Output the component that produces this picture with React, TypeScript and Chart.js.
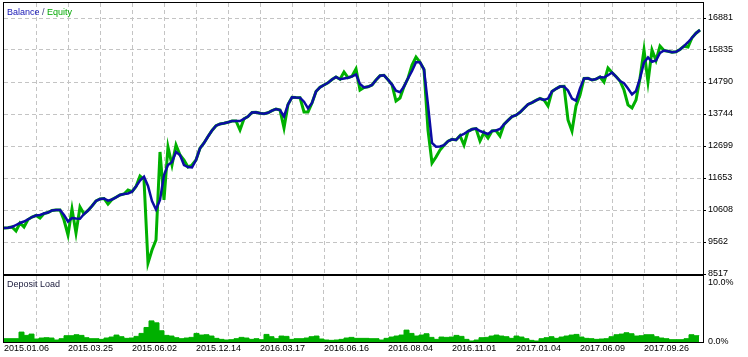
import React, { useEffect, useRef } from "react";
import { Chart, registerables } from "chart.js";

Chart.register(...registerables);

// ---- data ----
const dateLabels = [
  "2015.01.06", "2015.03.25", "2015.06.02", "2015.12.14", "2016.03.17", "2016.06.16",
  "2016.08.04", "2016.11.01", "2017.01.04", "2017.06.09", "2017.09.26",
];

const balanceTickLabels = ["8517", "9562", "10608", "11653", "12699", "13744", "14790", "15835", "16881"];
const depositTickLabels = ["0.0%", "10.0%"];

const balance = [
  10020, 10026, 10053, 10118, 10183, 10232, 10298, 10379, 10428, 10445,
  10494, 10526, 10592, 10608, 10608, 10445, 10232, 10347, 10330, 10324,
  10477, 10592, 10739, 10902, 10967, 10984, 10912, 10951, 11023, 11098,
  11131, 11147, 11206, 11376, 11572, 11696, 11392, 10902, 10624, 10935,
  11752, 12078, 12176, 12503, 12405, 12078, 12013, 11997, 12242, 12624,
  12797, 13009, 13205, 13362, 13418, 13441, 13473, 13516, 13516, 13516,
  13588, 13663, 13794, 13800, 13767, 13751, 13784, 13852, 13908, 13875,
  13663, 14055, 14290, 14280, 14277, 14146, 13931, 14104, 14480, 14617,
  14692, 14764, 14872, 14953, 14878, 14904, 14931, 14976, 15035, 14725,
  14610, 14633, 14692, 14855, 14993, 15009, 14865, 14705, 14503, 14457,
  14643, 14911, 15149, 15434, 15434, 15198, 14039, 12797, 12676, 12683,
  12725, 12856, 12918, 12895, 13036, 13098, 13179, 13245, 13268, 13189,
  13140, 13091, 13189, 13205, 13254, 13405, 13535, 13660, 13705, 13800,
  13931, 14058, 14117, 14189, 14251, 14202, 14248, 14483, 14568, 14640,
  14646, 14509, 14251, 14179, 14584, 14908, 14911, 14855, 14885, 14953,
  14937, 15012, 15100, 14970, 14823, 14751, 14578, 14382, 14496, 14911,
  15427, 15591, 15453, 15493, 15738, 15819, 15793, 15760, 15777, 15852,
  15960, 16090, 16237, 16384, 16489,
];

const equity = [
  10020, 10026, 10053, 9922, 10183, 10053, 10298, 10379, 10428, 10347,
  10494, 10526, 10592, 10608, 10608, 10281, 9791, 10641, 9857, 10706,
  10477, 10592, 10739, 10902, 10967, 10984, 10804, 10951, 11023, 11098,
  11131, 11261, 11206, 11376, 11719, 11600, 8876, 9301, 9628, 12503,
  10935, 12666, 12078, 12732, 12405, 12242, 12013, 12078, 12242, 12624,
  12797, 13009, 13205, 13362, 13418, 13441, 13473, 13516, 13516, 13222,
  13588, 13663, 13794, 13800, 13767, 13751, 13784, 13852, 13908, 13875,
  13287, 14055, 14290, 14280, 14277, 13810, 13810, 14104, 14480, 14617,
  14692, 14764, 14872, 14953, 14878, 15117, 14931, 14976, 15215, 14529,
  14610, 14633, 14692, 14855, 14993, 15009, 14865, 14705, 14169, 14267,
  14643, 14911, 15345, 15607, 15434, 15198, 13222, 12144, 12340, 12568,
  12725, 12856, 12918, 12895, 13036, 12732, 13179, 13245, 13268, 12862,
  13140, 12960, 13189, 13205, 13026, 13405, 13535, 13660, 13705, 13800,
  13931, 14058, 14117, 14189, 14251, 14202, 14006, 14483, 14568, 14640,
  14646, 13548, 13189, 14006, 14365, 14908, 14911, 14855, 14885, 14953,
  14790, 15247, 15100, 14970, 14823, 14529, 14039, 13941, 14202, 14911,
  15836, 14790, 15836, 15493, 15966, 15819, 15793, 15760, 15777, 15852,
  15960, 15934, 16237, 16384, 16489,
];

const depositLoad = [
  0.5, 0.5, 0.5, 1.5, 1.0, 1.2, 0.45, 0.6, 0.65, 0.6,
  0.3, 0.5, 0.95, 0.95, 1.1, 1.0, 0.65, 0.5, 0.5, 0.4,
  0.6, 0.75, 1.05, 0.8, 0.55, 0.6, 0.85, 1.3, 2.2, 3.2,
  2.9, 1.7, 1.0, 0.9, 0.65, 0.5, 0.6, 0.7, 1.3, 1.05,
  1.1, 0.9, 0.55, 0.4, 0.3, 0.35, 0.5, 0.7, 0.6, 0.4,
  0.5, 0.35, 1.15, 0.8, 0.5, 0.9, 0.85, 0.4, 0.5, 0.5,
  0.6, 0.8, 0.9, 0.45, 0.3, 0.25, 0.3, 0.4, 0.6, 0.7,
  0.55, 0.55, 0.55, 0.5, 0.5, 0.3, 0.55, 0.75, 0.9, 1.05,
  1.8, 1.3, 0.9, 1.05, 1.25, 0.7, 0.4, 0.75, 0.7, 0.75,
  1.0, 0.85, 0.4, 0.15, 0.3, 0.65, 0.7, 0.9, 1.05, 0.9,
  0.8, 0.55, 0.9, 0.75, 0.5, 0.25, 0.15, 0.5, 0.65, 0.8,
  0.55, 0.75, 0.9, 1.05, 1.15, 0.75, 0.55, 0.5, 0.4, 0.45,
  0.5, 0.8, 1.1, 1.2, 1.4, 1.25, 0.9, 0.95, 1.1, 1.1,
  0.8, 0.6, 0.5, 0.35, 0.35, 0.35, 0.5, 1.1, 0.95, 1.0,
];

// ---- styling ----
const FONT = "'Liberation Sans', Arial, sans-serif";
const GRID = "#c4c4c4";
const BLUE = "#0c0ca4";
const GREEN = "#00b000";
const DASH = [4, 3];

const framePlugin = {
  id: "frame",
  afterDraw(chart: any) {
    const { ctx, chartArea: a } = chart;
    ctx.save();
    ctx.strokeStyle = "#000";
    ctx.lineWidth = 1;
    ctx.strokeRect(
      Math.round(a.left) - 0.5,
      Math.round(a.top) - 0.5,
      Math.round(a.right - a.left) + 1,
      Math.round(a.bottom - a.top) + 1
    );
    ctx.restore();
  },
};

const gridColor = (c: any) => (c.index === 0 ? "rgba(0,0,0,0)" : GRID);
const noPad = (s: any) => {
  s.paddingTop = 0;
  s.paddingBottom = 0;
  s.paddingLeft = 0;
  s.paddingRight = 0;
};

export default function App() {
  const mainRef = useRef<HTMLCanvasElement>(null);
  const depRef = useRef<HTMLCanvasElement>(null);

  useEffect(() => {
    const ySpan = 1045.5; // value between horizontal grid lines
    const yMin = 8517;
    const mainXMax = 174.75;
    const depXMax = 139.8;

    const main = new Chart(mainRef.current!, {
      type: "line",
      data: {
        datasets: [
          {
            label: "Balance",
            data: balance.map((v, i) => ({ x: i, y: v })),
            borderColor: BLUE,
            borderWidth: 2.5,
            pointRadius: 0,
            tension: 0,
            order: 0,
          },
          {
            label: "Equity",
            data: equity.map((v, i) => ({ x: i, y: v })),
            borderColor: GREEN,
            borderWidth: 3,
            pointRadius: 0,
            tension: 0,
            order: 1,
          },
        ],
      },
      options: {
        animation: false,
        responsive: false,
        events: [],
        layout: { padding: { left: 4, top: 3, right: 0, bottom: 2 } },
        plugins: { legend: { display: false }, tooltip: { enabled: false } },
        scales: {
          x: {
            type: "linear",
            min: 0,
            max: mainXMax,
            afterBuildTicks: (s: any) => {
              s.ticks = Array.from({ length: 22 }, (_, i) => ({ value: i * 8 }));
            },
            afterFit: (s: any) => {
              s.height = 0;
              noPad(s);
            },
            ticks: { display: false },
            grid: { color: gridColor, drawTicks: false, lineWidth: 1 },
            border: { display: false, dash: DASH },
          },
          y: {
            position: "right",
            min: yMin,
            max: yMin + ySpan * 8 + ySpan * (15 / 32),
            afterBuildTicks: (s: any) => {
              s.ticks = balanceTickLabels.map((_, i) => ({ value: yMin + i * ySpan }));
            },
            afterFit: (s: any) => {
              s.width = 45;
              noPad(s);
            },
            ticks: {
              autoSkip: false,
              padding: 2,
              color: "#000",
              font: { family: FONT, size: 9 },
              callback: (_v: any, i: number) => balanceTickLabels[i],
            },
            grid: { color: GRID, tickColor: "#000", tickLength: 3, tickBorderDash: [] },
            border: { display: false, dash: DASH },
          },
        },
      },
      plugins: [framePlugin],
    } as any);

    const dep = new Chart(depRef.current!, {
      type: "line",
      data: {
        datasets: [
          {
            label: "Deposit Load",
            data: depositLoad.map((v, i) => ({ x: i, y: v })),
            borderColor: GREEN,
            backgroundColor: GREEN,
            borderWidth: 1,
            pointRadius: 0,
            fill: "origin",
            stepped: true,
          },
        ],
      },
      options: {
        animation: false,
        responsive: false,
        events: [],
        layout: { padding: { left: 4, top: 2, right: 0, bottom: 0 } },
        plugins: { legend: { display: false }, tooltip: { enabled: false } },
        scales: {
          x: {
            type: "linear",
            min: 0,
            max: depXMax,
            afterBuildTicks: (s: any) => {
              s.ticks = Array.from({ length: 22 }, (_, i) => ({ value: i * 6.4 }));
            },
            afterFit: (s: any) => {
              s.height = 15;
              noPad(s);
            },
            ticks: {
              autoSkip: false,
              maxRotation: 0,
              minRotation: 0,
              align: "start",
              padding: 1,
              color: "#000",
              font: { family: FONT, size: 9 },
              callback: (_v: any, i: number) => (i % 2 === 0 ? dateLabels[i / 2] : ""),
            },
            grid: { color: gridColor, drawTicks: false },
            border: { display: false, dash: DASH },
          },
          y: {
            position: "right",
            min: 0,
            max: 10,
            afterBuildTicks: (s: any) => {
              s.ticks = [{ value: 0 }, { value: 8.94 }];
            },
            afterFit: (s: any) => {
              s.width = 45;
              noPad(s);
            },
            ticks: {
              autoSkip: false,
              padding: 5,
              color: "#000",
              font: { family: FONT, size: 9 },
              callback: (_v: any, i: number) => depositTickLabels[i],
            },
            grid: { display: false, drawTicks: false },
            border: { display: false },
          },
        },
      },
      plugins: [framePlugin],
    } as any);

    return () => {
      main.destroy();
      dep.destroy();
    };
  }, []);

  return (
    <div
      style={{
        position: "absolute",
        left: 0,
        top: 0,
        width: 748,
        height: 357,
        background: "#fff",
        overflow: "hidden",
        fontFamily: FONT,
      }}
    >
      <canvas ref={mainRef} width={748} height={276} style={{ position: "absolute", left: 0, top: 0 }} />
      <canvas ref={depRef} width={748} height={83} style={{ position: "absolute", left: 0, top: 274 }} />
      <div
        style={{
          position: "absolute",
          left: 7,
          top: 7,
          fontSize: 9,
          lineHeight: "10px",
          whiteSpace: "nowrap",
        }}
      >
        <span style={{ color: "#1414b4" }}>Balance</span>
        <span style={{ color: "#404080" }}> / </span>
        <span style={{ color: "#00a800" }}>Equity</span>
      </div>
      <div
        style={{
          position: "absolute",
          left: 7,
          top: 279,
          fontSize: 9,
          lineHeight: "10px",
          color: "#202040",
          whiteSpace: "nowrap",
        }}
      >
        Deposit Load
      </div>
    </div>
  );
}
